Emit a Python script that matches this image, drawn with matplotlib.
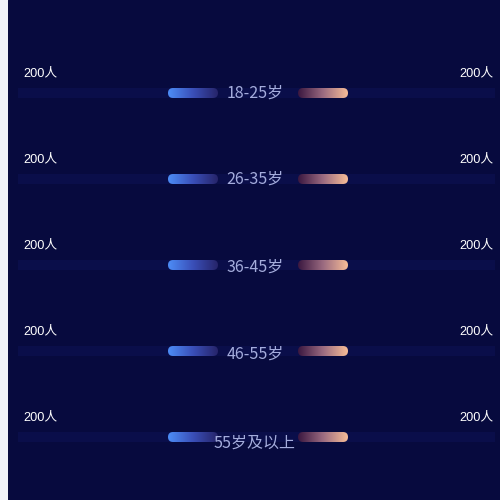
import matplotlib.pyplot as plt
import numpy as np
from matplotlib.patches import FancyBboxPatch, Rectangle
from matplotlib.colors import LinearSegmentedColormap

plt.rcParams['font.family'] = ['Noto Sans CJK SC', 'DejaVu Sans']

# data
categories = ['18-25岁', '26-35岁', '36-45岁', '46-55岁', '55岁及以上']
left_values = [200, 200, 200, 200, 200]
right_values = [200, 200, 200, 200, 200]
unit = '人'

bg = '#070a3e'
track = '#0a0e4a'
scale = 0.25  # px per person

fig = plt.figure(figsize=(5, 5), dpi=100)
fig.patch.set_facecolor('#f0f2f8')
ax = fig.add_axes([0.016, 0, 0.984, 1])
ax.set_facecolor(bg)
ax.axis('off')
ax.add_patch(Rectangle((8, 0), 492, 500, color=bg, zorder=0))

left_cmap = LinearSegmentedColormap.from_list('l', ['#4d8df7', '#3a4fb8', '#26246a'])
right_cmap = LinearSegmentedColormap.from_list('r', ['#3a1740', '#9a6a80', '#f7bd98'])

row_y = [93, 179, 265, 351, 437]
label_dy = [0, 0, 2, 3, 6]
h = 10
small_font = ['Liberation Sans', 'Noto Sans CJK SC']

def grad_bar(x0, x1, y, cmap):
    patch = FancyBboxPatch((x0 + h / 2, y), x1 - x0 - h, 0,
                           boxstyle='round,pad=%f' % (h / 2), linewidth=0,
                           facecolor='none', zorder=3)
    ax.add_patch(patch)
    grad = np.linspace(0, 1, 256).reshape(1, -1)
    im = ax.imshow(grad, cmap=cmap, extent=(x0, x1, y + h / 2, y - h / 2),
                   aspect='auto', zorder=3)
    im.set_clip_path(patch)

for i, cat in enumerate(categories):
    y = row_y[i]
    ax.add_patch(Rectangle((18, y - 5), 477, 10, color=track, zorder=1, linewidth=0))
    lw = left_values[i] * scale
    rw = right_values[i] * scale
    grad_bar(218 - lw, 218, y, left_cmap)
    grad_bar(298, 298 + rw, y, right_cmap)
    ax.text(255, y + label_dy[i], cat, color='#a4acdc', fontsize=11.5,
            ha='center', va='center', zorder=4)
    ax.text(23, y - 20, f'{left_values[i]}{unit}', color='white', fontsize=9.2,
            ha='left', va='center', zorder=4, family=small_font)
    ax.text(493, y - 20, f'{right_values[i]}{unit}', color='white', fontsize=9.2,
            ha='right', va='center', zorder=4, family=small_font)

ax.set_xlim(8, 500)
ax.set_ylim(500, 0)
fig.savefig('out.png', dpi=100, facecolor=fig.get_facecolor())
